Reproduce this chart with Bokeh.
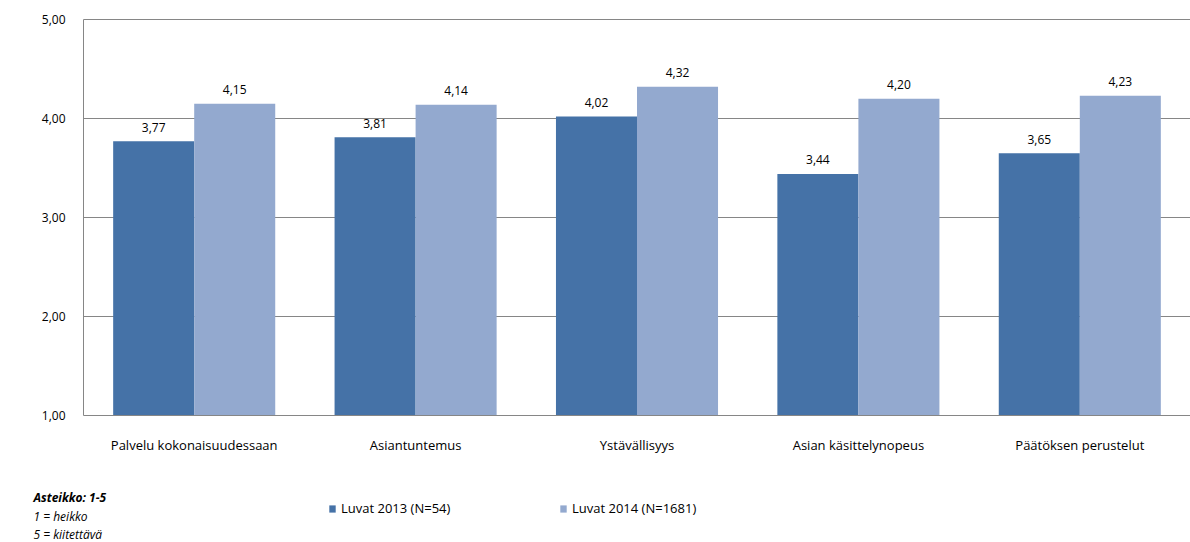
from bokeh.plotting import figure
from bokeh.models import Range1d, FixedTicker, ColumnDataSource, Legend, LegendItem, Label
from bokeh.core.properties import value
from bokeh.embed import file_html
from bokeh.resources import INLINE

categories = ["Palvelu kokonaisuudessaan", "Asiantuntemus", "Ystävällisyys",
              "Asian käsittelynopeus", "Päätöksen perustelut"]
values_2013 = [3.77, 3.81, 4.02, 3.44, 3.65]
values_2014 = [4.15, 4.14, 4.32, 4.20, 4.23]
series_names = ["Luvat 2013 (N=54)", "Luvat 2014 (N=1681)"]
y_ticks = [1, 2, 3, 4, 5]
notes = ["Asteikko: 1-5", "1 = heikko", "5 = kiitettävä"]

FONT = "Open Sans"
C1 = "#4572A7"
C2 = "#93A9CF"
GRID = "#868686"

W, H = 1190, 542
# plot area (pixels) of the value axes: left 83, right 1190, top 19 (=5), bottom 415 (=1)
PX_L, PX_R, PX_T, PX_B = 83, 1190, 19, 415
ncat = len(categories)
ymin, ymax = y_ticks[0], y_ticks[-1]
ux = (PX_R - PX_L) / ncat            # px per category
uy = (PX_B - PX_T) / (ymax - ymin)    # px per unit

def fmt(v):
    return f"{v:.2f}".replace(".", ",")

centers = [i + 0.5 for i in range(ncat)]
bw = 0.366
src = ColumnDataSource(dict(
    x13=[c - bw / 2 for c in centers],
    x14=[c + bw / 2 for c in centers],
    v13=values_2013,
    v14=values_2014,
    t13=[fmt(v) for v in values_2013],
    t14=[fmt(v) for v in values_2014],
))

p = figure(width=W, height=H, output_backend="svg", toolbar_location=None,
           x_range=Range1d(-PX_L / ux, ncat + (W - PX_R) / ux),
           y_range=Range1d(ymin - (H - PX_B) / uy, ymax + PX_T / uy),
           min_border=0, min_border_left=0, min_border_right=0,
           min_border_top=0, min_border_bottom=0)
p.outline_line_color = None
p.background_fill_color = "white"
p.border_fill_color = "white"
p.xgrid.grid_line_color = None
p.ygrid.grid_line_color = None

# horizontal gridlines restricted to the plot area
grid_y = y_ticks[1:]
p.segment(x0=[0] * len(grid_y), x1=[ncat] * len(grid_y), y0=grid_y, y1=grid_y,
          line_color=GRID, line_width=1)

r1 = p.vbar(x="x13", top="v13", bottom=ymin, width=bw, source=src,
            fill_color=C1, line_color=None)
r2 = p.vbar(x="x14", top="v14", bottom=ymin, width=bw, source=src,
            fill_color=C2, line_color=None)

for xcol, ycol, tcol in [("x13", "v13", "t13"), ("x14", "v14", "t14")]:
    p.text(x=xcol, y=ycol, text=tcol, source=src,
           text_align="center", text_baseline="middle", y_offset=-14,
           text_font=value(FONT), text_font_size="12px", text_color="#000000")

# value axis
p.yaxis.fixed_location = 0
p.yaxis.bounds = (ymin, ymax)
p.yaxis.ticker = FixedTicker(ticks=y_ticks)
p.yaxis.major_label_overrides = {t: fmt(t) for t in y_ticks}
p.yaxis.major_tick_line_color = None
p.yaxis.minor_tick_line_color = None
p.yaxis.axis_line_color = GRID
p.yaxis.major_label_text_font = FONT
p.yaxis.major_label_text_font_size = "12px"
p.yaxis.major_label_text_color = "#000000"
p.yaxis.major_label_standoff = 12

# category axis
p.xaxis.fixed_location = ymin
p.xaxis.bounds = (0, ncat)
p.xaxis.ticker = FixedTicker(ticks=centers)
p.xaxis.major_label_overrides = {c: name for c, name in zip(centers, categories)}
p.xaxis.major_tick_line_color = None
p.xaxis.minor_tick_line_color = None
p.xaxis.axis_line_color = GRID
p.xaxis.major_label_text_font = FONT
p.xaxis.major_label_text_font_size = "13px"
p.xaxis.major_label_text_color = "#000000"
p.xaxis.major_label_standoff = 14

# legends (screen px from the bottom-left of the canvas)
for r, name, gx in [(r1, series_names[0], 328), (r2, series_names[1], 559)]:
    lg = Legend(items=[LegendItem(label=name, renderers=[r])],
                location=(gx, 25), orientation="horizontal",
                glyph_width=8, glyph_height=9, label_standoff=5,
                padding=0, margin=0, spacing=0, label_height=9,
                label_text_font=FONT, label_text_font_size="13px",
                label_text_color="#000000",
                border_line_alpha=0, background_fill_alpha=0)
    p.add_layout(lg, "center")

# scale notes
for i, (txt, py) in enumerate(zip(notes, [497, 516, 534])):
    p.add_layout(Label(x=33, y=H - py, x_units="screen", y_units="screen", text=txt,
                       text_font=FONT, text_font_size="12px",
                       text_font_style="bold italic" if i == 0 else "italic",
                       text_baseline="middle", text_align="left", text_color="#000000"))

open("out.html", "w").write(file_html(p, INLINE))
